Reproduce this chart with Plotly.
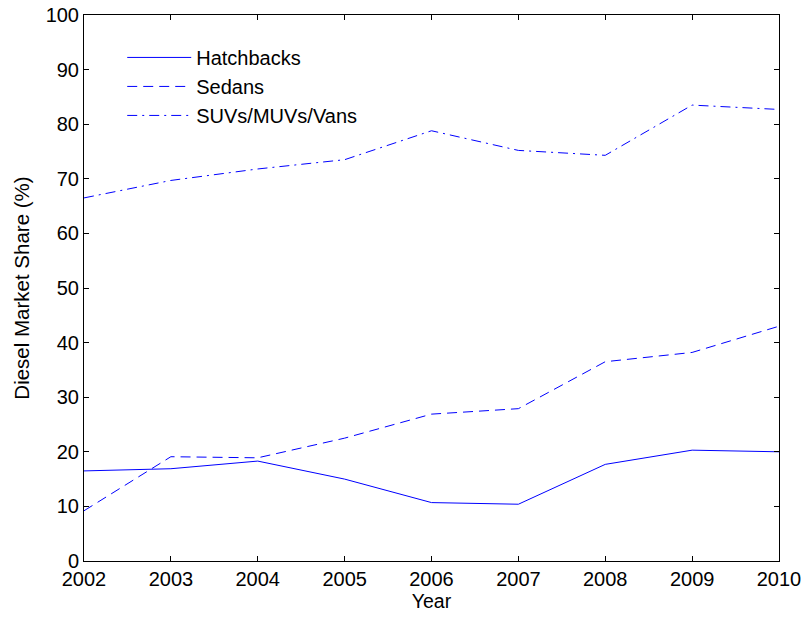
import plotly.graph_objects as go

years = [2002, 2003, 2004, 2005, 2006, 2007, 2008, 2009, 2010]
hatchbacks = [16.5, 16.9, 18.3, 15.0, 10.7, 10.4, 17.7, 20.3, 20.0]
sedans = [9.2, 19.1, 18.9, 22.5, 26.9, 27.9, 36.5, 38.2, 43.0]
suvs = [66.5, 69.7, 71.8, 73.5, 78.8, 75.2, 74.3, 83.5, 82.7]

blue = "#0000ff"
fig = go.Figure()
fig.add_trace(go.Scatter(x=years, y=hatchbacks, mode="lines", name="Hatchbacks",
                         legendgroup="a", line=dict(color=blue, width=1)))
fig.add_trace(go.Scatter(x=years, y=sedans, mode="lines", name="Sedans",
                         legendgroup="b", line=dict(color=blue, width=1, dash="10px,6px")))
fig.add_trace(go.Scatter(x=years, y=suvs, mode="lines", name="SUVs/MUVs/Vans",
                         legendgroup="c", line=dict(color=blue, width=1, dash="10px,5px,2px,5px")))

axis_common = dict(showgrid=False, zeroline=False, showline=True, linecolor="black",
                   linewidth=1, mirror="ticks", ticks="inside", ticklen=5,
                   tickcolor="black", tickfont=dict(size=20, color="black"),
                   automargin=False)
fig.update_layout(
    width=807, height=620,
    margin=dict(l=84, r=28, t=15, b=59),
    paper_bgcolor="white", plot_bgcolor="white",
    font=dict(family="Liberation Sans, Arial, sans-serif", size=19, color="black"),
    xaxis=dict(range=[2002, 2010], dtick=1,
               title=dict(text="Year", standoff=4, font=dict(size=19.5)), **axis_common),
    yaxis=dict(range=[0, 100], dtick=10,
               title=dict(text="Diesel Market Share (%)", standoff=10, font=dict(size=20.5)), **axis_common),
    legend=dict(x=0.055, y=0.958, xanchor="left", yanchor="top", bgcolor="rgba(0,0,0,0)",
                font=dict(size=20), itemwidth=64, tracegroupgap=0),
    showlegend=True,
)
fig.write_html("out.html")
